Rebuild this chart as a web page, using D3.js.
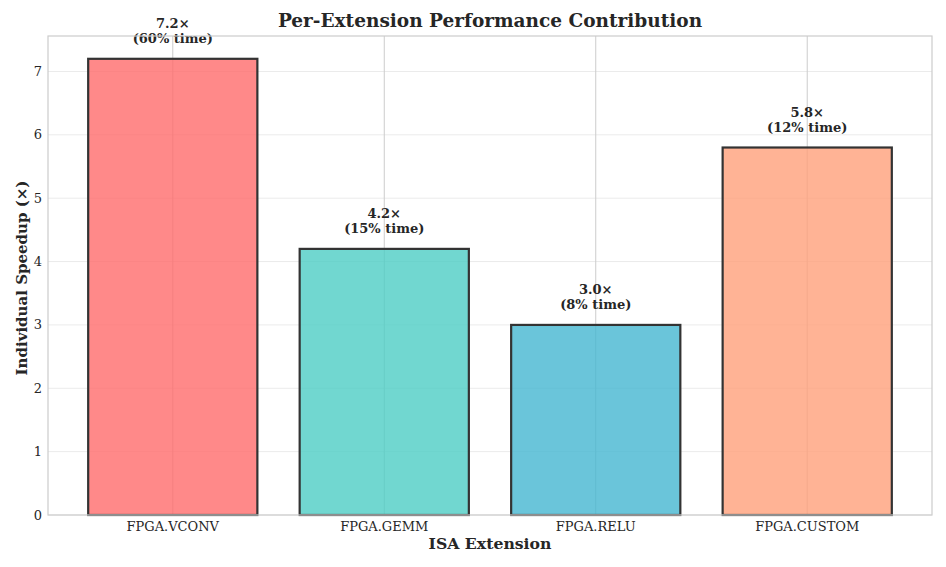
<!doctype html>
<html>
<head>
<meta charset="utf-8">
<title>Per-Extension Performance Contribution</title>
<script src="https://d3js.org/d3.v7.min.js"></script>
<style>
  body { margin: 0; background: #fff; }
  text { font-family: "DejaVu Serif", serif; fill: #262626; }
</style>
</head>
<body>
<div id="chart"></div>
<script>
const extensions = ["FPGA.VCONV", "FPGA.GEMM", "FPGA.RELU", "FPGA.CUSTOM"];
const speedups = [7.2, 4.2, 3.0, 5.8];
const timeShares = [60, 15, 8, 12];
const barColors = ["#FF6B6B", "#4ECDC4", "#45B7D1", "#FFA07A"];
const yTicks = [0, 1, 2, 3, 4, 5, 6, 7];

const w = 946, h = 567;
const margin = {top: 36, right: 14, bottom: 52, left: 48};

const svg = d3.select("#chart").append("svg")
  .attr("width", w)
  .attr("height", h);

// matplotlib style: bars at 0..n-1, width 0.8, 5% margin
const x = d3.scaleLinear()
  .domain([-0.59, extensions.length - 1 + 0.59])
  .range([margin.left, w - margin.right]);

const y = d3.scaleLinear()
  .domain([0, d3.max(speedups) * 1.05])
  .range([h - margin.bottom, margin.top]);

// horizontal grid (light)
svg.append("g").selectAll("line")
  .data(yTicks)
  .enter().append("line")
  .attr("x1", x.range()[0]).attr("x2", x.range()[1])
  .attr("y1", d => y(d)).attr("y2", d => y(d))
  .attr("stroke", "#ebebeb").attr("stroke-width", 1);

// vertical grid at category ticks
svg.append("g").selectAll("line")
  .data(extensions)
  .enter().append("line")
  .attr("x1", (d, i) => x(i)).attr("x2", (d, i) => x(i))
  .attr("y1", y.range()[0]).attr("y2", y.range()[1])
  .attr("stroke", "#cccccc").attr("stroke-width", 1);

// bars
const bw = x(0.4) - x(-0.4);
svg.append("g").selectAll("rect")
  .data(speedups)
  .enter().append("rect")
  .attr("x", (d, i) => x(i) - bw / 2)
  .attr("y", d => y(d))
  .attr("width", bw)
  .attr("height", d => y(0) - y(d))
  .attr("fill", (d, i) => barColors[i])
  .attr("fill-opacity", 0.8)
  .attr("stroke", "#333333")
  .attr("stroke-width", 2.2);

// value labels
const lbl = svg.append("g").selectAll("text")
  .data(speedups)
  .enter().append("text")
  .attr("text-anchor", "middle")
  .attr("font-weight", "bold")
  .attr("font-size", 13);
lbl.append("tspan")
  .attr("x", (d, i) => x(i))
  .attr("y", d => y(d) - 30.5)
  .text(d => d.toFixed(1) + "×");
lbl.append("tspan")
  .attr("x", (d, i) => x(i))
  .attr("y", d => y(d) - 15.5)
  .text((d, i) => "(" + timeShares[i] + "% time)");

// frame
svg.append("rect")
  .attr("x", x.range()[0]).attr("y", y.range()[1])
  .attr("width", x.range()[1] - x.range()[0])
  .attr("height", y.range()[0] - y.range()[1])
  .attr("fill", "none")
  .attr("stroke", "#cccccc").attr("stroke-width", 1.2);

// y tick labels
svg.append("g").selectAll("text")
  .data(yTicks)
  .enter().append("text")
  .attr("x", margin.left - 6)
  .attr("y", d => y(d))
  .attr("dy", "0.35em")
  .attr("text-anchor", "end")
  .attr("font-size", 13)
  .text(d => d);

// x tick labels
svg.append("g").selectAll("text")
  .data(extensions)
  .enter().append("text")
  .attr("x", (d, i) => x(i))
  .attr("y", y(0) + 16)
  .attr("text-anchor", "middle")
  .attr("font-size", 13)
  .text(d => d);

// axis titles
svg.append("text")
  .attr("x", (x.range()[0] + x.range()[1]) / 2)
  .attr("y", 549)
  .attr("text-anchor", "middle")
  .attr("font-weight", "bold")
  .attr("font-size", 15.7)
  .text("ISA Extension");

svg.append("text")
  .attr("transform", "translate(27,278) rotate(-90)")
  .attr("text-anchor", "middle")
  .attr("font-weight", "bold")
  .attr("font-size", 15)
  .text("Individual Speedup (×)");

svg.append("text")
  .attr("x", (x.range()[0] + x.range()[1]) / 2)
  .attr("y", 27)
  .attr("text-anchor", "middle")
  .attr("font-weight", "bold")
  .attr("font-size", 18.5)
  .text("Per-Extension Performance Contribution");
</script>
</body>
</html>
